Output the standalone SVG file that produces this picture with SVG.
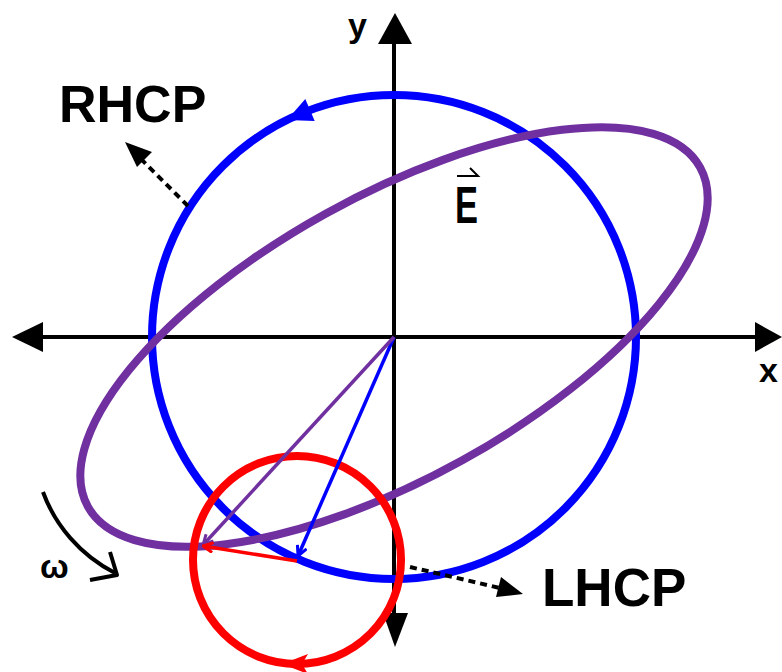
<svg xmlns="http://www.w3.org/2000/svg" width="782" height="672" viewBox="0 0 782 672">
<defs>
<style>
.axis{stroke:#000;stroke-width:4;fill:none}
.lbl{font-family:"Liberation Sans",Arial,sans-serif;font-weight:bold;fill:#000}
.dash{stroke:#000;stroke-width:4;stroke-dasharray:7 5;fill:none}
.vec{stroke-width:3.5;fill:none}
</style>
<marker id="mb" viewBox="0 0 12 12" refX="11" refY="6" markerWidth="12" markerHeight="12" markerUnits="userSpaceOnUse" orient="auto"><path d="M1,1 L11,6 L1,11" fill="none" stroke="#0000FF" stroke-width="3"/></marker>
<marker id="mp" viewBox="0 0 12 12" refX="11" refY="6" markerWidth="12" markerHeight="12" markerUnits="userSpaceOnUse" orient="auto"><path d="M1,1 L11,6 L1,11" fill="none" stroke="#7030A0" stroke-width="3"/></marker>
<marker id="mr" viewBox="0 0 12 12" refX="11" refY="6" markerWidth="12" markerHeight="12" markerUnits="userSpaceOnUse" orient="auto"><path d="M1,1 L11,6 L1,11" fill="none" stroke="#FF0000" stroke-width="3"/></marker>
</defs>
<rect width="782" height="672" fill="#fff"/>
<g id="axes">
<line class="axis" x1="40" y1="337" x2="757" y2="337"/>
<line class="axis" x1="394" y1="40" x2="394" y2="615"/>
<polygon points="12,337 43,322 43,352" fill="#000"/>
<polygon points="782,337 755,322 755,352" fill="#000"/>
<polygon points="395,13 378,44 412,44" fill="#000"/>
<polygon points="395,647 383,613 408,613" fill="#000"/>
<text class="lbl" x="348" y="37" font-size="34">y</text>
<text class="lbl" x="759" y="382" font-size="34">x</text>
</g>
<g id="rhcp-circle">
<circle cx="394" cy="337" r="242" fill="none" stroke="#0000FF" stroke-width="8"/>
<polygon points="287,120 314.7,121 310,110 305.3,99" fill="#0000FF"/>
</g>
<g id="ellipse">
<ellipse cx="394" cy="337" rx="350" ry="141" transform="rotate(-29 394 337)" fill="none" stroke="#7030A0" stroke-width="8"/>
</g>
<g id="lhcp-circle">
<circle cx="297" cy="560" r="104" fill="none" stroke="#FF0000" stroke-width="8"/>
<polygon points="282,664 308,654 302,664 308,674" fill="#FF0000"/>
</g>
<g id="connectors">
<line class="vec" x1="394" y1="337" x2="298" y2="556" stroke="#0000FF" marker-end="url(#mb)"/>
<line class="vec" x1="394" y1="337" x2="203" y2="545" stroke="#7030A0" marker-end="url(#mp)"/>
<line class="vec" x1="297" y1="561" x2="203" y2="546" stroke="#FF0000" marker-end="url(#mr)"/>
<line class="dash" x1="188" y1="206" x2="138" y2="156"/>
<polygon points="125,142 152,152 137,167" fill="#000"/>
<line class="dash" x1="410" y1="567" x2="500" y2="588"/>
<polygon points="523,594 496,597 501,577" fill="#000"/>
<path d="M43,492 C55,525 80,555 115,573" fill="none" stroke="#000" stroke-width="4"/>
<path d="M110,552 L117,575 L90,580" fill="none" stroke="#000" stroke-width="4" stroke-linejoin="round"/>
</g>
<g id="labels">
<text class="lbl" x="59" y="122" font-size="52">RHCP</text>
<text class="lbl" x="542" y="606" font-size="53">LHCP</text>
<text class="lbl" x="455" y="223" font-size="52" textLength="23" lengthAdjust="spacingAndGlyphs">E</text>
<path d="M457,176 L478,176 L470,168" fill="none" stroke="#000" stroke-width="2"/>
<text class="lbl" x="40" y="578" font-size="34">ω</text>
</g>
</svg>
